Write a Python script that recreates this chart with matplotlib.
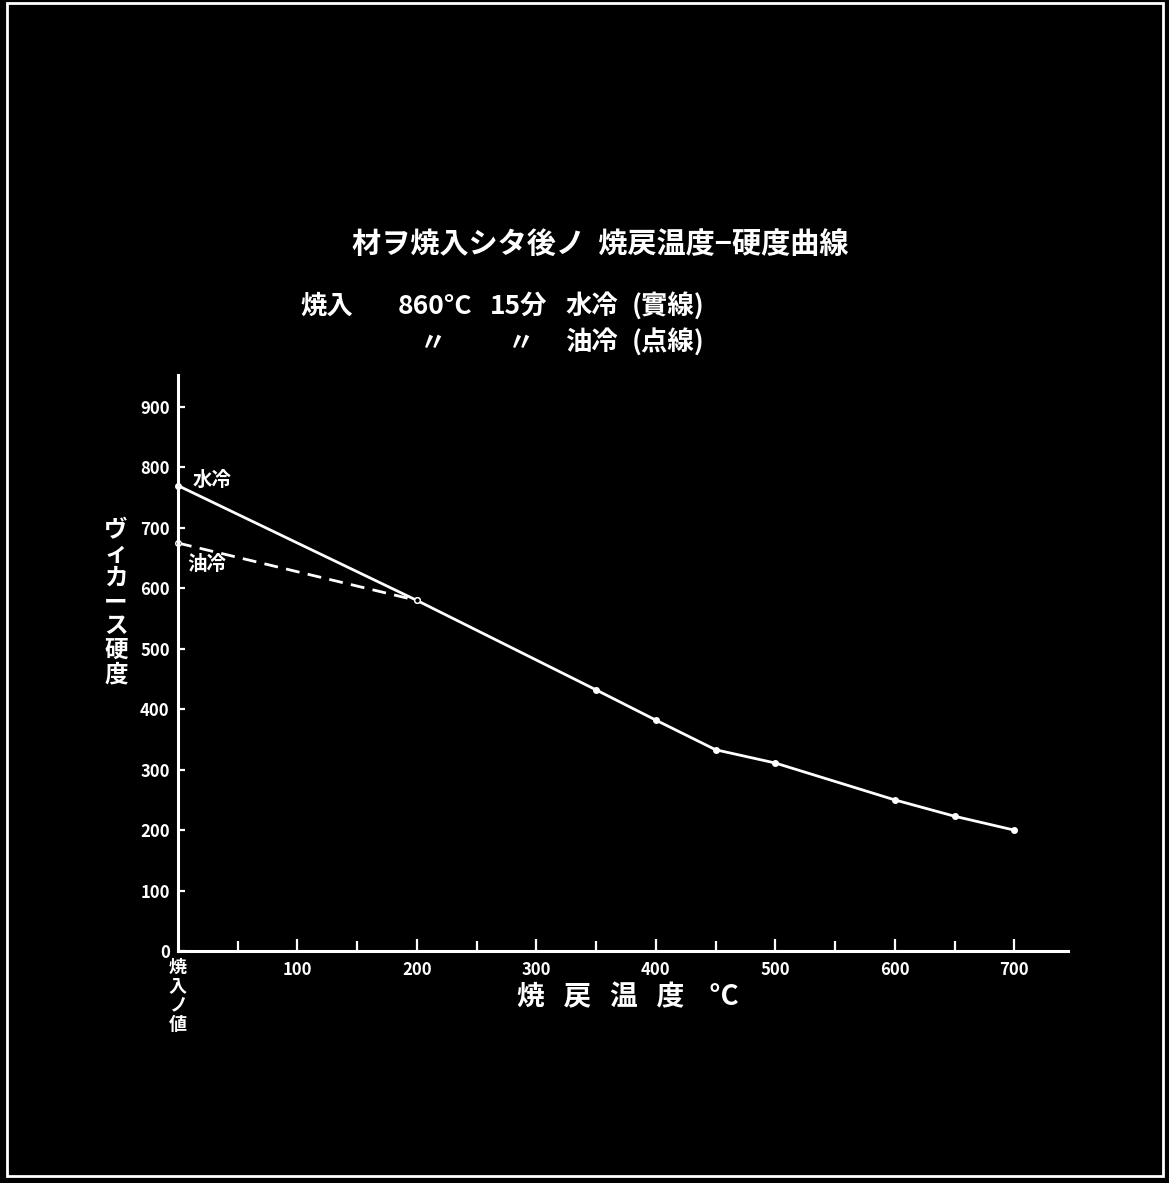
import numpy as np
import matplotlib.pyplot as plt
from matplotlib.patches import Rectangle

plt.rcParams['font.family'] = ['Noto Sans CJK JP', 'DejaVu Sans']

# water quench (solid) and oil quench (dashed), tempering temp vs Vickers hardness
waterTemp = [0, 200, 350, 400, 450, 500, 600, 650, 700]
waterHard = [770, 580, 432, 382, 333, 311, 250, 223, 200]
oilTemp = [0, 200]
oilHard = [675, 580]

xMajor = [100, 200, 300, 400, 500, 600, 700]
xMinor = [50, 150, 250, 350, 450, 550, 650]
yMajor = [0, 100, 200, 300, 400, 500, 600, 700, 800, 900]

W, H = 1169, 1183
fig = plt.figure(figsize=(W / 100, H / 100), dpi=100, facecolor='black')

def fx(px):
    return px / W

def fy(py):
    return 1 - py / H

ax = fig.add_axes([fx(178), fy(951), fx(1068) - fx(178), fy(375) - fy(951)])
ax.set_facecolor('black')
ax.set_xlim(0, 745)
ax.set_ylim(0, 953)

ax.plot(waterTemp, waterHard, color='white', lw=2.0, marker='o', ms=4,
        mfc='white', mec='white', clip_on=False)
ax.plot(oilTemp, oilHard, color='white', lw=2.0, ls=(0, (5, 3)), marker='o', ms=4,
        mfc='black', mec='white', clip_on=False)

for s in ['top', 'right']:
    ax.spines[s].set_visible(False)
for s in ['left', 'bottom']:
    ax.spines[s].set_color('white')
    ax.spines[s].set_linewidth(2.2)

ax.set_xticks(xMajor)
ax.set_xticks(xMinor, minor=True)
ax.set_yticks(yMajor)
ax.tick_params(axis='x', which='major', direction='in', length=9, width=1.6,
               colors='white', pad=7, labelsize=12)
ax.tick_params(axis='x', which='minor', direction='in', length=7, width=1.6,
               colors='white')
ax.tick_params(axis='y', direction='in', length=5, width=1.6, colors='white',
               pad=6, labelsize=12)
for lab in ax.get_xticklabels() + ax.get_yticklabels():
    lab.set_fontweight('bold')
    lab.set_fontstyle('italic')

# labels on the curves
ax.text(12, 762, '水冷', color='white', fontsize=14, fontweight='bold', va='bottom')
ax.text(8, 640, '油冷', color='white', fontsize=14, fontweight='bold', va='center')

# title block
fig.text(fx(600), fy(245), '材ヲ焼入シタ後ノ  焼戻温度−硬度曲線', color='white',
         fontsize=21, fontweight='bold', ha='center', va='center')
row2 = [(300, '焼入'), (398, '860°C'), (490, '15分'), (565, '水冷'), (632, '(實線)')]
for x, t in row2:
    fig.text(fx(x), fy(306), t, color='white', fontsize=19, fontweight='bold',
             ha='left', va='center')
row3 = [(420, '〃'), (508, '〃'), (565, '油冷'), (632, '(点線)')]
for x, t in row3:
    fig.text(fx(x), fy(343), t, color='white', fontsize=19, fontweight='bold',
             ha='left', va='center')

# axis titles
fig.text(fx(116), fy(602), '\n'.join('ヴィカース硬度'), color='white', fontsize=17,
         fontweight='bold', ha='center', va='center', linespacing=1.0)
fig.text(fx(178), fy(996), '\n'.join('焼入ノ値'), color='white', fontsize=13,
         fontweight='bold', ha='center', va='center', linespacing=1.0)
fig.text(fx(628), fy(997), '焼   戻   温   度    °C', color='white', fontsize=20,
         fontweight='bold', ha='center', va='center')

# plate frame
fig.patches.append(Rectangle((fx(7), fy(1176)), fx(1163) - fx(7), fy(3) - fy(1176),
                             transform=fig.transFigure, fill=False,
                             edgecolor='white', lw=2))

fig.savefig('out.png', dpi=100, facecolor='black')
